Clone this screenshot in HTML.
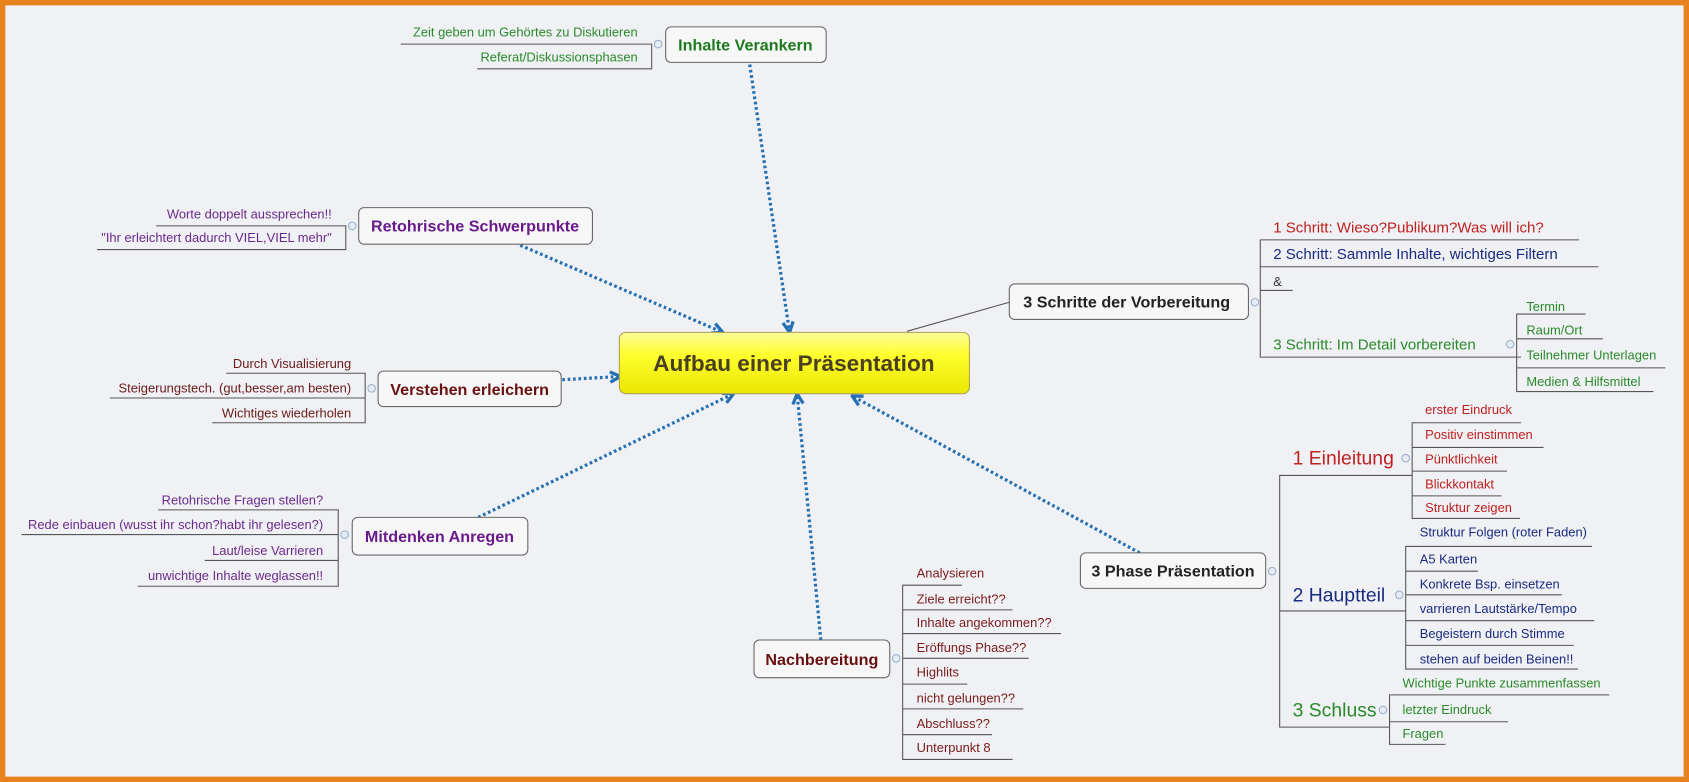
<!DOCTYPE html>
<html><head><meta charset="utf-8"><style>
html,body{margin:0;padding:0;background:#f0f1f4;}
svg{display:block;}
text{font-family:"Liberation Sans",sans-serif;}
.c{font-size:12px;}
.b{font-weight:bold;font-size:15px;}
.ln{stroke:#555;stroke-width:1;fill:none;}
.ar{stroke:#2470b4;stroke-width:3;stroke-dasharray:2.5 2.5;fill:none;}
.bx{fill:#f7f7f8;stroke:#666;stroke-width:1;}
</style></head><body>
<svg width="1689" height="782" viewBox="0 0 1568 727" preserveAspectRatio="none">
<defs>
<linearGradient id="y" x1="0" y1="0" x2="0" y2="1"><stop offset="0" stop-color="#fbfb9a"/><stop offset="0.35" stop-color="#ffff30"/><stop offset="1" stop-color="#e9e600"/></linearGradient>
<marker id="m" viewBox="0 0 10 10" refX="9" refY="5" markerWidth="4" markerHeight="4" orient="auto"><polyline points="1,1 9,5 1,9" fill="none" stroke="#2470b4" stroke-width="2.5"/></marker>
</defs>
<rect x="0" y="0" width="1568" height="727" fill="#f0f1f4"/>
<rect x="2.5" y="2.5" width="1563" height="722" fill="none" stroke="#e8821e" stroke-width="5"/>

<!-- arrows -->
<line class="ar" x1="696" y1="60" x2="733" y2="309" marker-end="url(#m)"/>
<line class="ar" x1="483" y1="228" x2="671" y2="309" marker-end="url(#m)"/>
<line class="ar" x1="522" y1="353" x2="576" y2="350" marker-end="url(#m)"/>
<line class="ar" x1="444" y1="481" x2="681" y2="366" marker-end="url(#m)"/>
<line class="ar" x1="762" y1="595" x2="740" y2="366" marker-end="url(#m)"/>
<line class="ar" x1="1058" y1="514" x2="791" y2="368" marker-end="url(#m)"/>
<line class="ln" x1="842" y1="308" x2="937" y2="281" stroke="#777"/>

<!-- central -->
<rect x="575" y="309" width="325" height="57" rx="6" fill="url(#y)" stroke="#b0a050"/>
<text x="737" y="345" text-anchor="middle" font-weight="bold" font-size="21" fill="#4a4020">Aufbau einer Präsentation</text>

<!-- Inhalte Verankern -->
<rect class="bx" x="618" y="25" width="149" height="33" rx="5"/>
<text class="b" x="692" y="47" text-anchor="middle" fill="#1e7a1e">Inhalte Verankern</text>
<g fill="#2a8a2a" class="c" text-anchor="end">
<text x="592" y="34" class="c">Zeit geben um Gehörtes zu Diskutieren</text>
<text x="592" y="57" class="c">Referat/Diskussionsphasen</text></g>
<path class="ln" d="M372 41H605V64H443"/>

<!-- Retohrische Schwerpunkte -->
<rect class="bx" x="333" y="193" width="217" height="34" rx="5"/>
<text class="b" x="441" y="215" text-anchor="middle" fill="#6a1a8a">Retohrische Schwerpunkte</text>
<g fill="#6a2a8a" text-anchor="end">
<text x="308" y="203" class="c">Worte doppelt aussprechen!!</text>
<text x="308" y="225" class="c">"Ihr erleichtert dadurch VIEL,VIEL mehr"</text></g>
<path class="ln" d="M145 210H321V232H90"/>

<!-- Verstehen -->
<rect class="bx" x="351" y="345" width="170" height="33" rx="5"/>
<text class="b" x="436" y="367" text-anchor="middle" fill="#6a1010">Verstehen erleichern</text>
<g fill="#6a1a1a" text-anchor="end">
<text x="326" y="342" class="c">Durch Visualisierung</text>
<text x="326" y="365" class="c">Steigerungstech. (gut,besser,am besten)</text>
<text x="326" y="388" class="c">Wichtiges wiederholen</text></g>
<path class="ln" d="M210 347H339V393H197M102 370H339"/>

<!-- Mitdenken -->
<rect class="bx" x="327" y="481" width="163" height="35" rx="5"/>
<text class="b" x="408" y="504" text-anchor="middle" fill="#6a1a8a">Mitdenken Anregen</text>
<g fill="#6a2a8a" text-anchor="end">
<text x="300" y="469" class="c">Retohrische Fragen stellen?</text>
<text x="300" y="492" class="c">Rede einbauen (wusst ihr schon?habt ihr gelesen?)</text>
<text x="300" y="516" class="c">Laut/leise Varrieren</text>
<text x="300" y="539" class="c">unwichtige Inhalte weglassen!!</text></g>
<path class="ln" d="M147 474H314V545H128M20 497H314M190 521H314"/>

<!-- Nachbereitung -->
<rect class="bx" x="700" y="595" width="126" height="35" rx="5"/>
<text class="b" x="763" y="618" text-anchor="middle" fill="#6a1010">Nachbereitung</text>
<g fill="#7a1a1a">
<text x="851" y="537" class="c">Analysieren</text>
<text x="851" y="561" class="c">Ziele erreicht??</text>
<text x="851" y="583" class="c">Inhalte angekommen??</text>
<text x="851" y="606" class="c">Eröffungs Phase??</text>
<text x="851" y="629" class="c">Highlits</text>
<text x="851" y="653" class="c">nicht gelungen??</text>
<text x="851" y="677" class="c">Abschluss??</text>
<text x="851" y="699" class="c">Unterpunkt 8</text></g>
<path class="ln" d="M893 544H838V706H940M838 567H940M838 589H985M838 612H955M838 636H898M838 659H950M838 683H921"/>

<!-- 3 Schritte -->
<rect class="bx" x="937" y="264" width="222" height="33" rx="5"/>
<text class="b" x="1046" y="286" text-anchor="middle" fill="#222">3 Schritte der Vorbereitung</text>
<text x="1182" y="216" font-size="14" fill="#c02020">1 Schritt: Wieso?Publikum?Was will ich?</text>
<text x="1182" y="241" font-size="14" fill="#1a2a80">2 Schritt: Sammle Inhalte, wichtiges Filtern</text>
<text x="1182" y="266" class="c" fill="#333">&amp;</text>
<text x="1182" y="325" font-size="14" fill="#2a8a2a">3 Schritt: Im Detail vorbereiten</text>
<path class="ln" d="M1466 223H1170V332H1412M1170 248H1484M1170 270H1200"/>
<g fill="#2a8a2a">
<text x="1417" y="289" class="c">Termin</text>
<text x="1417" y="311" class="c">Raum/Ort</text>
<text x="1417" y="334" class="c">Teilnehmer Unterlagen</text>
<text x="1417" y="359" class="c">Medien &amp; Hilfsmittel</text></g>
<path class="ln" d="M1472 292H1408V364H1535M1408 315H1488M1408 342H1546"/>

<!-- 3 Phase -->
<rect class="bx" x="1003" y="514" width="172" height="33" rx="5"/>
<text class="b" x="1089" y="536" text-anchor="middle" fill="#222">3 Phase Präsentation</text>
<path class="ln" d="M1311 442H1188V676H1290M1188 568H1305"/>
<text x="1200" y="432" font-size="18" fill="#c02020">1 Einleitung</text>
<text x="1200" y="559" font-size="18" fill="#1a2a80">2 Hauptteil</text>
<text x="1200" y="666" font-size="18" fill="#2a8a2a">3 Schluss</text>
<g fill="#c02020">
<text x="1323" y="385" class="c">erster Eindruck</text>
<text x="1323" y="408" class="c">Positiv einstimmen</text>
<text x="1323" y="431" class="c">Pünktlichkeit</text>
<text x="1323" y="454" class="c">Blickkontakt</text>
<text x="1323" y="476" class="c">Struktur zeigen</text></g>
<path class="ln" d="M1412 393H1311V482H1411M1311 416H1433M1311 438H1399M1311 461H1394"/>
<g fill="#1a2a80">
<text x="1318" y="499" class="c">Struktur Folgen (roter Faden)</text>
<text x="1318" y="524" class="c">A5 Karten</text>
<text x="1318" y="547" class="c">Konkrete Bsp. einsetzen</text>
<text x="1318" y="570" class="c">varrieren Lautstärke/Tempo</text>
<text x="1318" y="593" class="c">Begeistern durch Stimme</text>
<text x="1318" y="617" class="c">stehen auf beiden Beinen!!</text></g>
<path class="ln" d="M1478 508H1305V622H1465M1305 531H1372M1305 553H1450M1305 577H1480M1305 600H1461"/>
<g fill="#2a8a2a">
<text x="1302" y="639" class="c">Wichtige Punkte zusammenfassen</text>
<text x="1302" y="664" class="c">letzter Eindruck</text>
<text x="1302" y="686" class="c">Fragen</text></g>
<path class="ln" d="M1494 646H1290V692H1342M1290 671H1400"/>

<!-- small collapse circles -->
<g fill="#e6ecf4" stroke="#9ab0cc">
<circle cx="611" cy="41" r="3.5"/><circle cx="327" cy="210" r="3.5"/><circle cx="345" cy="361" r="3.5"/>
<circle cx="320" cy="497" r="3.5"/><circle cx="832" cy="612" r="3.5"/><circle cx="1165" cy="281" r="3.5"/>
<circle cx="1402" cy="320" r="3.5"/><circle cx="1181" cy="531" r="3.5"/><circle cx="1305" cy="426" r="3.5"/>
<circle cx="1299" cy="553" r="3.5"/><circle cx="1284" cy="660" r="3.5"/></g>
</svg>
</body></html>
